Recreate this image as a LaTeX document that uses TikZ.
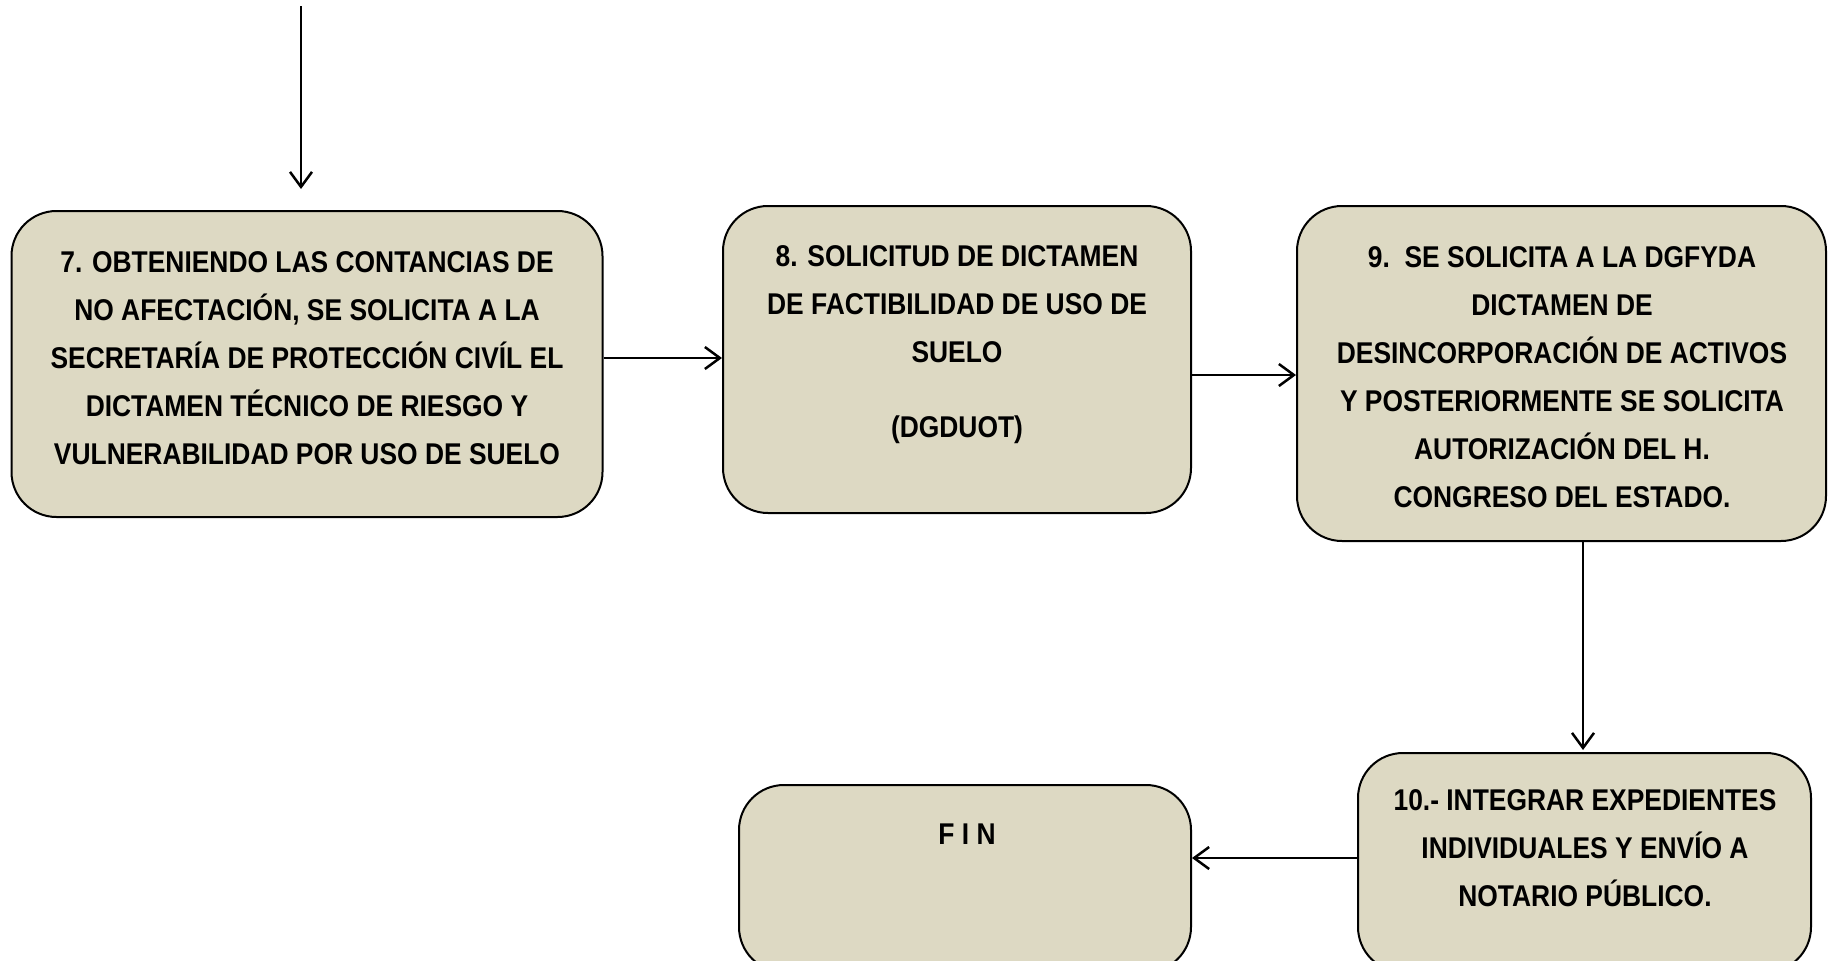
\documentclass[tikz,border=0pt]{standalone}
\usepackage{fontspec}
\setmainfont[FakeStretch=0.88]{Liberation Sans}
\usetikzlibrary{arrows.meta}
\definecolor{boxfill}{HTML}{DDD9C3}
\begin{document}
\begin{tikzpicture}[x=1pt,y=-1pt,
  stepbox/.style={draw=black,line width=2pt,fill=boxfill,rounded corners=45pt,inner sep=0pt},
  boxtext/.style={align=center,font=\fontsize{30}{48}\selectfont\bfseries,inner sep=0pt},
  conn/.style={line width=2.5pt,-{Straight Barb[length=15pt,width=22pt,line width=2.5pt]}}]
\useasboundingbox (0,0) rectangle (1831,961);
% boxes
\node[stepbox,minimum width=591pt,minimum height=306pt] (b7) at (307,364) {};
\node[stepbox,minimum width=468pt,minimum height=307pt] (b8) at (957,359.5) {};
\node[stepbox,minimum width=529pt,minimum height=335pt] (b9) at (1561.5,373.5) {};
\node[stepbox,minimum width=453pt,minimum height=219pt] (b10) at (1584.5,862.5) {};
\node[stepbox,minimum width=452pt,minimum height=187pt] (fin) at (965,878.5) {};
% texts
\node[boxtext] (t7) at (307,358.5) {7. OBTENIENDO LAS CONTANCIAS DE\\NO AFECTACIÓN, SE SOLICITA A LA\\SECRETARÍA DE PROTECCIÓN CIVÍL EL\\DICTAMEN TÉCNICO DE RIESGO Y\\VULNERABILIDAD POR USO DE SUELO};
\node[boxtext] (t8) at (957,344.5) {8. SOLICITUD DE DICTAMEN\\DE FACTIBILIDAD DE USO DE\\SUELO\\[27pt](DGDUOT)};
\node[boxtext] (t9) at (1562,377.5) {9.\ \ SE SOLICITA A LA DGFYDA\\DICTAMEN DE\\DESINCORPORACIÓN DE ACTIVOS\\Y POSTERIORMENTE SE SOLICITA\\AUTORIZACIÓN DEL H.\\CONGRESO DEL ESTADO.};
\node[boxtext] (t10) at (1585,848) {10.- INTEGRAR EXPEDIENTES\\INDIVIDUALES Y ENVÍO A\\NOTARIO PÚBLICO.};
\node[boxtext] (tfin) at (967,834) {F I N};
% connectors
\coordinate (top) at (301,6);
\draw[conn,shorten >=21pt] (top) -- (top |- b7.north);
\draw[conn] (b7.east |- 0,358) -- (b8.west |- 0,358);
\draw[conn] (b8.east |- 0,375) -- (b9.west |- 0,375);
\draw[conn,shorten >=2pt] (b9.south -| 1583,0) -- (b10.north -| 1583,0);
\draw[conn] (b10.west |- 0,858) -- (fin.east |- 0,858);
\end{tikzpicture}
\end{document}
